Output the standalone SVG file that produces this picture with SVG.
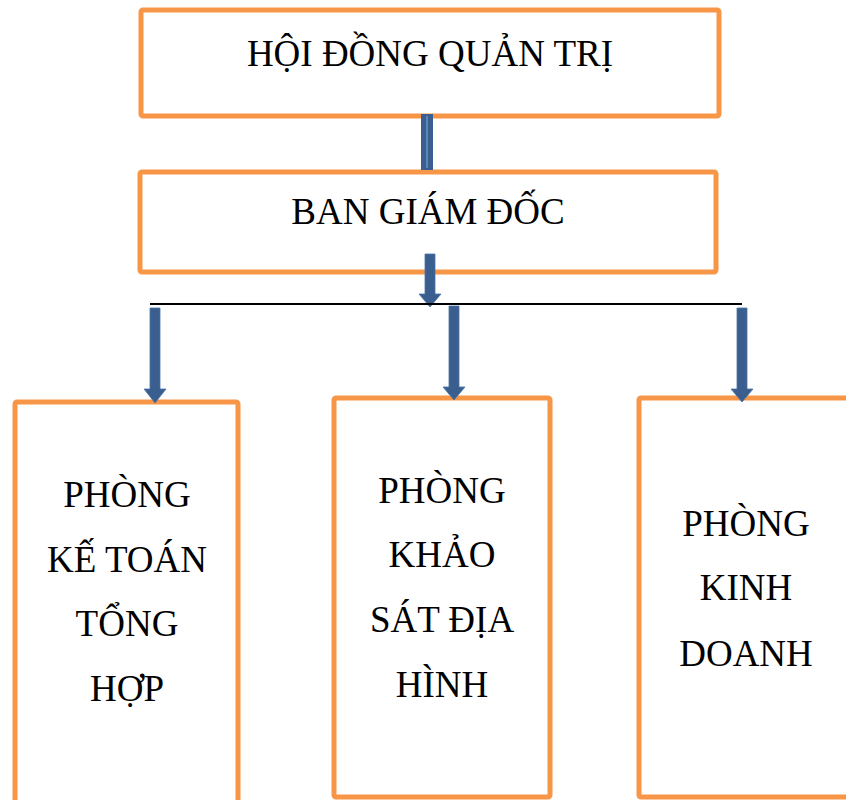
<svg xmlns="http://www.w3.org/2000/svg" width="846" height="800" viewBox="0 0 846 800">
  <style>
    .box { fill: #ffffff; stroke: #F79646; stroke-width: 5; stroke-linejoin: round; }
    .lbl { font-family: "Liberation Serif", "Times New Roman", serif; font-size: 37px; fill: #000000; text-anchor: middle; }
    .arrow { fill: #3A5F8F; stroke: #4A74A8; stroke-width: 0.8; }
    .bar { fill: #3A5F8F; }
    .bar-hi { fill: #5B86BE; }
    .rule { stroke: #000000; stroke-width: 2; }
  </style>

  <rect width="846" height="800" fill="#ffffff"/>

  <g id="hoi-dong-quan-tri">
    <rect class="box" x="141" y="10" width="578" height="106" rx="2"/>
    <text class="lbl" x="430" y="66">HỘI ĐỒNG QUẢN TRỊ</text>
  </g>

  <g id="ban-giam-doc">
    <rect class="box" x="140" y="172" width="576" height="100" rx="2"/>
    <text class="lbl" x="428" y="224">BAN GIÁM ĐỐC</text>
  </g>

  <g id="phong-ke-toan">
    <rect class="box" x="15" y="402" width="223" height="420" rx="2"/>
    <text class="lbl" x="127" y="507">PHÒNG</text>
    <text class="lbl" x="127" y="572">KẾ TOÁN</text>
    <text class="lbl" x="127" y="636">TỔNG</text>
    <text class="lbl" x="127" y="701">HỢP</text>
  </g>

  <g id="phong-khao-sat">
    <rect class="box" x="334" y="398" width="216" height="399" rx="2"/>
    <text class="lbl" x="442" y="503">PHÒNG</text>
    <text class="lbl" x="442" y="567">KHẢO</text>
    <text class="lbl" x="442" y="632">SÁT ĐỊA</text>
    <text class="lbl" x="442" y="697">HÌNH</text>
  </g>

  <g id="phong-kinh-doanh">
    <rect class="box" x="639" y="398" width="230" height="399" rx="2"/>
    <text class="lbl" x="746" y="536">PHÒNG</text>
    <text class="lbl" x="746" y="600">KINH</text>
    <text class="lbl" x="746" y="666">DOANH</text>
  </g>

  <!-- connectors, drawn over the box borders -->
  <g id="connectors">
    <!-- board to management bar -->
    <rect class="bar" x="421" y="114" width="12" height="56"/>
    <rect class="bar-hi" x="426" y="116" width="2" height="52"/>
    <!-- management down to the distribution line -->
    <path class="arrow" d="M 425 254 L 435 254 L 435 294 L 441 294 L 430 307 L 419 294 L 425 294 Z"/>
    <line class="rule" x1="150" y1="304" x2="742" y2="304"/>
    <!-- distribution line down to each department -->
    <path class="arrow" d="M 150 308 L 160 308 L 160 389 L 166 389 L 155 403 L 144 389 L 150 389 Z"/>
    <path class="arrow" d="M 449 306 L 459 306 L 459 387 L 465 387 L 454 400 L 443 387 L 449 387 Z"/>
    <path class="arrow" d="M 737 308 L 747 308 L 747 389 L 753 389 L 742 402 L 731 389 L 737 389 Z"/>
  </g>
</svg>
